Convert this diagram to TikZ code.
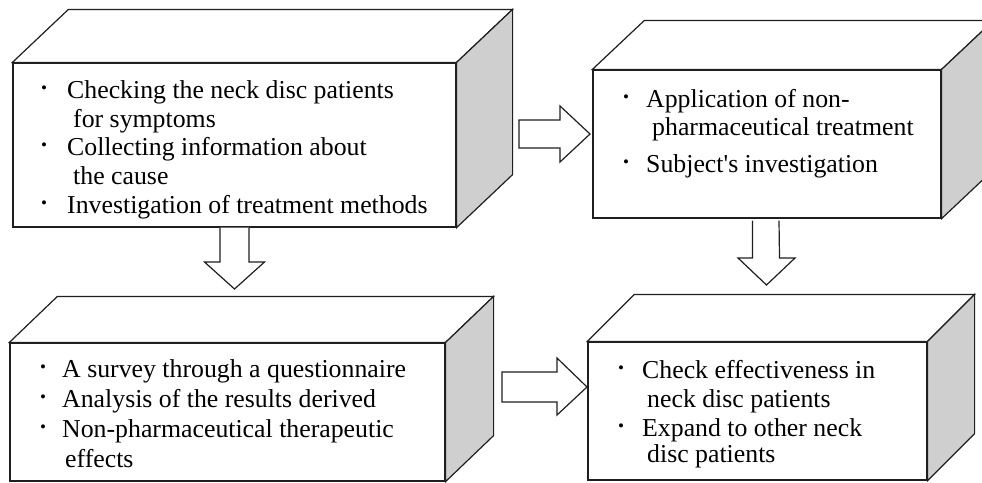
\documentclass[tikz,border=0pt]{standalone}
\usepackage{fontspec}
\setmainfont{Liberation Serif}[Ligatures=TeXOff]
\usetikzlibrary{calc}
\newcommand\bul[1]{\makebox[#1][l]{\raisebox{5pt}{\fontsize{17}{17}\selectfont\textbullet}}}
\newcommand\cubefaces[3]{%
  \draw[topface] (#1.north west) -- ($(#1.north west)+(#2,-#3)$) -- ($(#1.north east)+(#2,-#3)$) -- (#1.north east) -- cycle;
  \draw[sideface] (#1.north east) -- ($(#1.north east)+(#2,-#3)$) -- ($(#1.south east)+(#2,-#3)$) -- (#1.south east) -- cycle;
}
\tikzset{
  line/.style={draw=black!88, line width=1.2pt, line join=miter},
  front/.style={line, fill=white, inner sep=0pt, rectangle},
  topface/.style={line, fill=white},
  sideface/.style={line, fill=black!19},
  txt/.style={anchor=north west, inner sep=0pt, align=left, font=\fontsize{25.8}{29}\selectfont},
  blockarrow/.style={line, fill=white},
}
\begin{document}
\begin{tikzpicture}[x=1pt,y=-1pt]
\useasboundingbox (0,0) rectangle (982,482);
% front faces
\node[front, minimum width=443pt, minimum height=164pt] (b1) at (234.5,145) {};
\node[front, minimum width=348pt, minimum height=148pt] (b2) at (767,144) {};
\node[front, minimum width=435pt, minimum height=138pt] (b3) at (227.5,412) {};
\node[front, minimum width=339pt, minimum height=138pt] (b4) at (757.5,411) {};
\cubefaces{b1}{56}{53}
\cubefaces{b2}{52}{49}
\cubefaces{b3}{48}{46}
\cubefaces{b4}{47}{47}
% texts
\node[txt] (t1) at (41,77.7) {\strut\bul{26pt}Checking the neck disc patients\\[-0.2pt]
\hspace*{32pt}for symptoms\\[-0.2pt]
\bul{26pt}Collecting information about\\[-0.2pt]
\hspace*{32pt}the cause\\[-0.2pt]
\bul{26pt}Investigation of treatment methods};
\node[txt] (t2) at (623,86.7) {\strut\bul{23pt}Application of non-\\[-1pt]
\hspace*{29pt}pharmaceutical treatment\\[8pt]
\bul{23pt}Subject's investigation};
\node[txt] (t3) at (40,356.7) {\strut\bul{22pt}A survey through a questionnaire\\[1pt]
\bul{22pt}Analysis of the results derived\\[1pt]
\bul{22pt}Non-pharmaceutical therapeutic\\[1pt]
\hspace*{25pt}effects};
\node[txt] (t4) at (618,357.7) {\strut\bul{24pt}Check effectiveness in\\[0pt]
\hspace*{29pt}neck disc patients\\[0pt]
\bul{24pt}Expand to other neck\\[-3pt]
\hspace*{29pt}disc patients};
% block arrows
\coordinate (a1s) at (519,134);
\coordinate (a1t) at (590,134);
\draw[blockarrow] ($(a1s)+(0,-14)$) -- ($(a1t)+(-30,-14)$) -- ($(a1t)+(-30,-28)$) -- (a1t)
  -- ($(a1t)+(-30,28)$) -- ($(a1t)+(-30,14)$) -- ($(a1s)+(0,14)$) -- cycle;
\coordinate (a4s) at (502,387);
\coordinate (a4t) at (587,387);
\draw[blockarrow] ($(a4s)+(0,-15)$) -- ($(a4t)+(-30,-15)$) -- ($(a4t)+(-30,-29)$) -- (a4t)
  -- ($(a4t)+(-30,28)$) -- ($(a4t)+(-30,15)$) -- ($(a4s)+(0,15)$) -- cycle;
\coordinate (a2t) at (234.5,289);
\draw[blockarrow] ($(b1.south)+(-14.5,0)$) -- ($(a2t)+(-14.5,-27)$) -- ($(a2t)+(-30,-27)$) -- (a2t)
  -- ($(a2t)+(30,-27)$) -- ($(a2t)+(14.5,-27)$) -- ($(b1.south)+(14.5,0)$);
\coordinate (a3t) at (766.5,285);
\draw[blockarrow] ($(b2.south)+(-14.5,2)$) -- ($(a3t)+(-14,-27)$) -- ($(a3t)+(-28.5,-27)$) -- (a3t)
  -- ($(a3t)+(28.5,-27)$) -- ($(a3t)+(13,-27)$) -- ($(b2.south)+(12,2)$);
\end{tikzpicture}
\end{document}
